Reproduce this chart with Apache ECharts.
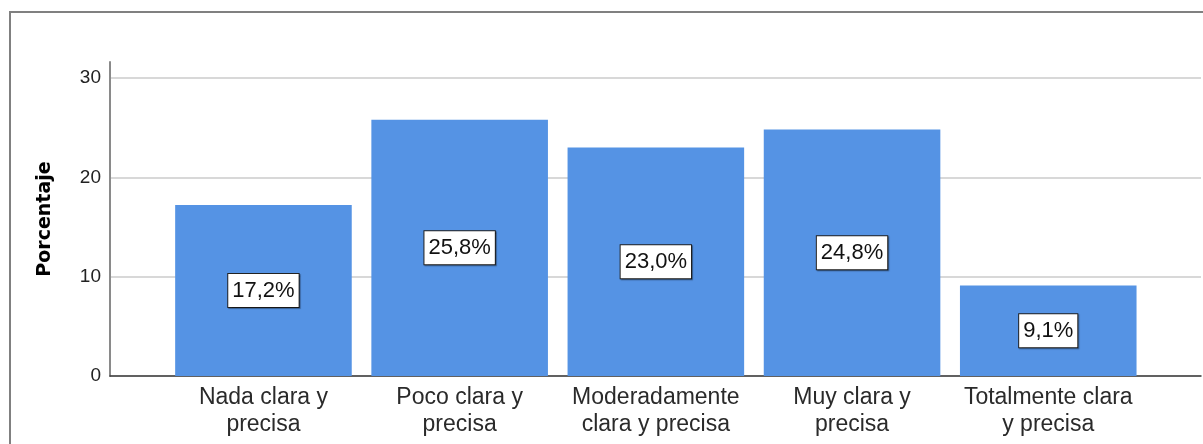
<!DOCTYPE html>
<html>
<head>
<meta charset="utf-8">
<script src="https://cdn.jsdelivr.net/npm/echarts@6/dist/echarts.min.js"></script>
<style>
  html, body { margin: 0; padding: 0; background: #fff; }
  #wrap { position: relative; width: 1203px; height: 444px; overflow: hidden; }
  #frame { position: absolute; left: 9px; top: 11px; width: 1300px; height: 500px;
           border-left: 2px solid #808080; border-top: 2px solid #808080; }
  #chart { position: absolute; left: 0; top: 0; width: 1203px; height: 444px; }
</style>
</head>
<body>
<div id="wrap">
  <div id="frame"></div>
  <div id="chart"></div>
</div>
<script>
// Response categories (two-line labels) and their percentages
const categories = [
  'Nada clara y\nprecisa',
  'Poco clara y\nprecisa',
  'Moderadamente\nclara y precisa',
  'Muy clara y\nprecisa',
  'Totalmente clara\ny precisa'
];
const percentages = [17.2, 25.8, 23.0, 24.8, 9.1];
const yTicks = [0, 10, 20, 30];
const yAxisTitle = 'Porcentaje';

const yMax = 31.6;
const barColor = '#5593e4';

const chart = echarts.init(document.getElementById('chart'), null, { renderer: 'canvas' });

chart.setOption({
  animation: false,
  backgroundColor: 'transparent',
  grid: [
    // frame grid: y axis, gridlines and baseline
    { left: 110, right: 2, top: 62, bottom: 68, containLabel: false },
    // bar grid, inset inside the frame grid
    { left: 165.35, right: 56.65, top: 62, bottom: 68, containLabel: false }
  ],
  xAxis: [
    {
      gridIndex: 0, type: 'value', min: 0, max: 1,
      axisLine: { show: true, onZero: false, lineStyle: { color: '#3a3a3a', width: 1.5 } },
      axisTick: { show: false }, axisLabel: { show: false }, splitLine: { show: false }
    },
    {
      gridIndex: 1, type: 'category', data: categories,
      axisLine: { show: false }, axisTick: { show: false },
      axisLabel: {
        interval: 0, margin: 8, color: '#2a2a2a',
        fontFamily: 'Liberation Sans', fontSize: 23, lineHeight: 27
      }
    }
  ],
  yAxis: [
    {
      gridIndex: 0, type: 'value', min: 0, max: yMax, interval: 10,
      name: yAxisTitle, nameLocation: 'middle', nameGap: 55, nameRotate: 90,
      nameTextStyle: { fontFamily: 'DejaVu Sans', fontWeight: 'bold', fontSize: 19, color: '#000' },
      axisLine: { show: true, lineStyle: { color: '#8a8a8a', width: 2 } },
      axisTick: { show: false, customValues: yTicks },
      axisLabel: {
        customValues: yTicks, margin: 9, color: '#222',
        fontFamily: 'Liberation Sans', fontSize: 19
      },
      splitLine: { show: true, lineStyle: { color: '#d8d8d8', width: 2 } }
    },
    {
      gridIndex: 1, type: 'value', min: 0, max: yMax,
      axisLine: { show: false }, axisTick: { show: false },
      axisLabel: { show: false }, splitLine: { show: false }
    }
  ],
  series: [
    {
      type: 'bar', xAxisIndex: 1, yAxisIndex: 1,
      data: percentages,
      barCategoryGap: '10%',
      itemStyle: { color: barColor },
      label: {
        show: true, position: 'inside',
        formatter: p => p.value.toFixed(1).replace('.', ',') + '%',
        fontFamily: 'Liberation Sans', fontSize: 22, color: '#111',
        backgroundColor: '#fff', borderColor: '#222', borderWidth: 1,
        padding: [6, 4, 5, 4],
        shadowColor: 'rgba(0,0,0,0.35)', shadowOffsetX: 1, shadowOffsetY: 1, shadowBlur: 1
      }
    }
  ]
});
</script>
</body>
</html>
